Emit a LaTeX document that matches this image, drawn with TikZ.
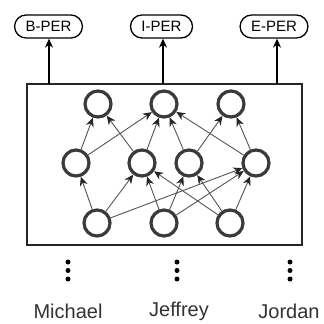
\documentclass[tikz,border=0pt]{standalone}
\usepackage{fontspec}
\setmainfont{Liberation Sans}
\usetikzlibrary{arrows.meta}
\definecolor{circ}{HTML}{3A3A3A}
\definecolor{edge}{HTML}{555555}
\definecolor{word}{HTML}{333333}
\tikzset{
  unit/.style={circle, draw=circ, line width=3.2pt, minimum size=26pt, inner sep=0pt},
  tag/.style={draw=black, line width=1.3pt, rounded corners=11.5pt, minimum height=23pt, inner xsep=11pt, font=\fontsize{15}{15}\selectfont},
  conn/.style={draw=edge, line width=0.9pt, -{Stealth[length=9pt,width=8pt,color=black!85]}},
  outarrow/.style={draw=black, line width=1.2pt, -{Stealth[length=9pt,width=8pt]}},
  wordlbl/.style={text=word, font=\fontsize{20}{20}\selectfont},
  vdot/.style={circle, fill=black, inner sep=0pt, minimum size=5pt}
}
\begin{document}
\begin{tikzpicture}[x=1pt,y=-1pt]
\useasboundingbox (0,0) rectangle (324,324);
\fill[white] (0,0) rectangle (324,324);
% box
\draw[line width=1.3pt, draw=black!85] (27,84) rectangle (302,245);
% labels
\node[tag] (B) at (48.5,26.5) {B-PER};
\node[tag] (I) at (161.5,26.5) {I-PER};
\node[tag] (E) at (274,26.5) {E-PER};
\coordinate (aB) at (49,84);
\coordinate (aI) at (163,84);
\coordinate (aE) at (277,84);
\draw[outarrow] (aB) -- (aB |- B.south);
\draw[outarrow] (aI) -- (aI |- I.south);
\draw[outarrow] (aE) -- (aE |- E.south);
% units
\node[unit] (t1) at (98,104) {};
\node[unit] (t2) at (164,104) {};
\node[unit] (t3) at (231,104) {};
\node[unit] (m1) at (76,163) {};
\node[unit] (m2) at (142,163) {};
\node[unit] (m3) at (189,163) {};
\node[unit] (m4) at (256,163) {};
\node[unit] (b1) at (97,223) {};
\node[unit] (b2) at (164,223) {};
\node[unit] (b3) at (230,223) {};
% mid -> top
\foreach \a/\b in {m1/t1, m1/t2, m2/t1, m2/t2, m3/t2, m3/t3, m4/t2, m4/t3}
  \draw[conn] (\a) -- (\b);
% bottom -> mid
\foreach \a/\b in {b1/m1, b1/m2, b1/m4, b2/m2, b2/m3, b2/m4, b3/m2, b3/m3, b3/m4}
  \draw[conn] (\a) -- (\b);
% dots
\foreach \x/\n in {68/d1, 177/d2, 290/d3} {
  \node[vdot] (\n a) at (\x,262) {};
  \node[vdot] (\n b) at (\x,270.5) {};
  \node[vdot] (\n c) at (\x,279) {};
}
% words
\node[wordlbl] (w1) at (68,311) {Michael};
\node[wordlbl] (w2) at (179,311) {Jeffrey};
\node[wordlbl] (w3) at (289,311) {Jordan};
\end{tikzpicture}
\end{document}
